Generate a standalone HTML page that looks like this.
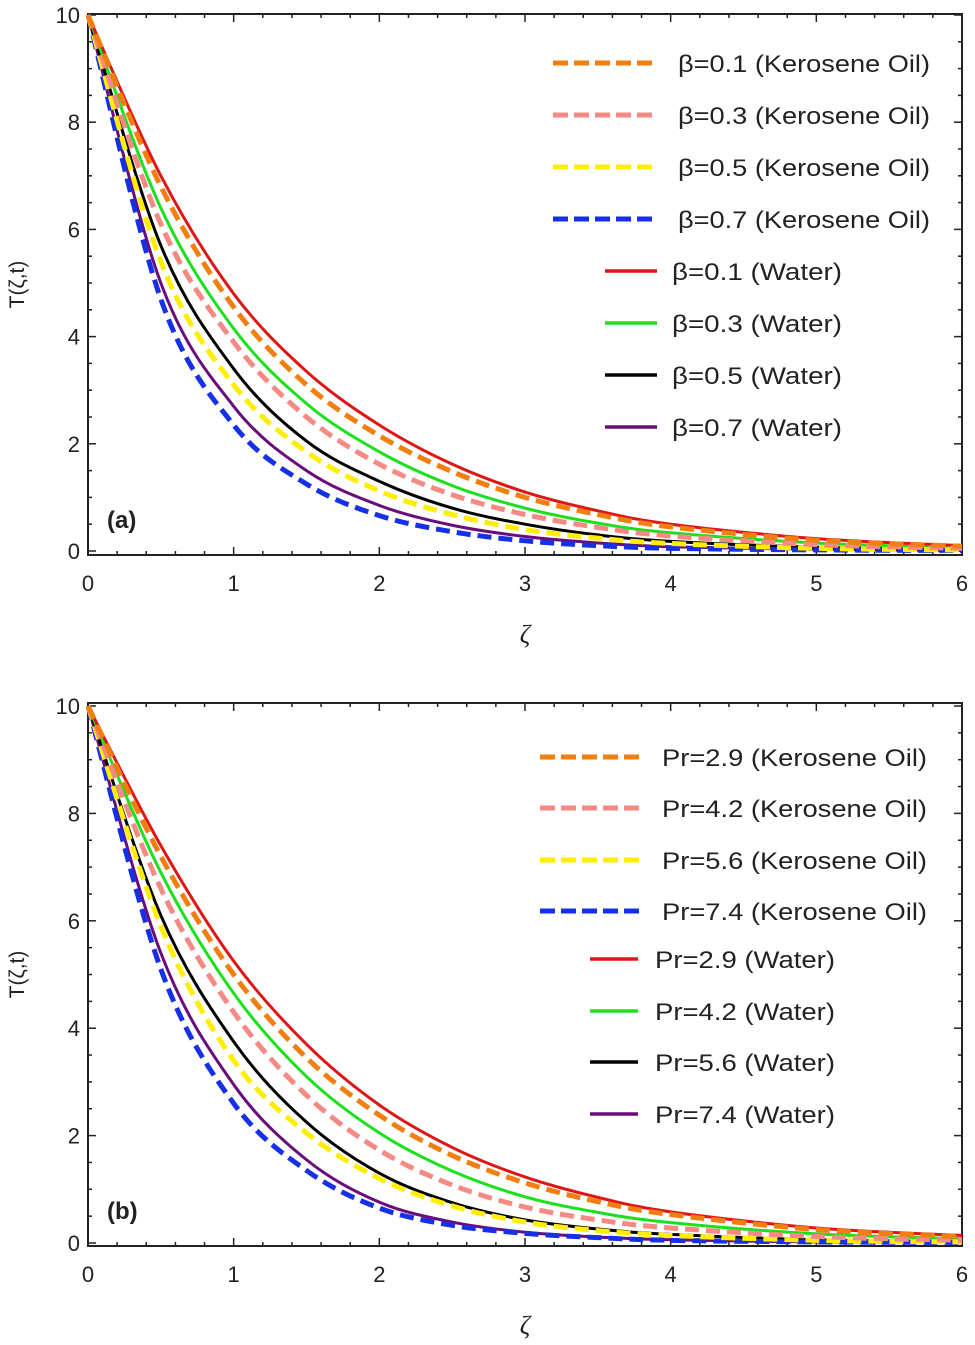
<!DOCTYPE html>
<html><head><meta charset="utf-8"><style>
body{margin:0;background:#fff;}
svg{display:block;font-family:"Liberation Sans",sans-serif;}
</style></head><body>
<svg id="c" width="975" height="1345"></svg>
<script>
const xs = [0,0.5,1,1.5,2,2.5,3,3.5,4,5,6];
const aRed    = [10,7.0,4.8,3.35,2.35,1.62,1.1,0.75,0.5,0.23,0.1];
const aOrange = [10,6.8,4.55,3.1,2.15,1.48,1.0,0.68,0.45,0.2,0.09];
const aGreen  = [10,6.4,4.15,2.75,1.85,1.22,0.8,0.52,0.34,0.15,0.06];
const aPink   = [10,6.1,3.9,2.5,1.62,1.05,0.68,0.44,0.28,0.12,0.05];
const aBlack  = [10,5.7,3.4,2.05,1.3,0.8,0.5,0.3,0.18,0.07,0.03];
const aYellow = [10,5.4,3.1,1.85,1.12,0.68,0.4,0.24,0.14,0.05,0.02];
const aPurple = [10,5.0,2.7,1.5,0.85,0.48,0.27,0.15,0.08,0.03,0.01];
const aBlue   = [10,4.7,2.35,1.25,0.66,0.36,0.19,0.1,0.05,0.02,0.01];
const bRed    = [10,7.4,5.25,3.7,2.57,1.78,1.23,0.85,0.58,0.28,0.14];
const bOrange = [10,7.2,5.0,3.45,2.38,1.63,1.12,0.77,0.53,0.25,0.12];
const bGreen  = [10,6.9,4.65,3.1,2.05,1.34,0.86,0.57,0.38,0.17,0.08];
const bPink   = [10,6.6,4.3,2.75,1.73,1.08,0.67,0.43,0.28,0.12,0.05];
const bBlack  = [10,6.1,3.75,2.25,1.3,0.75,0.43,0.26,0.16,0.06,0.03];
const bYellow = [10,5.9,3.4,2.05,1.2,0.69,0.39,0.23,0.14,0.05,0.02];
const bPurple = [10,5.4,2.95,1.55,0.76,0.39,0.2,0.11,0.06,0.02,0.01];
const bBlue   = [10,5.1,2.6,1.35,0.65,0.33,0.18,0.1,0.05,0.02,0.01];
const xTicks = [0,1,2,3,4,5,6];
const yTicks = [0,2,4,6,8,10];
const labelsA = ["β=0.1 (Kerosene Oil)","β=0.3 (Kerosene Oil)","β=0.5 (Kerosene Oil)","β=0.7 (Kerosene Oil)","β=0.1 (Water)","β=0.3 (Water)","β=0.5 (Water)","β=0.7 (Water)"];
const labelsB = ["Pr=2.9 (Kerosene Oil)","Pr=4.2 (Kerosene Oil)","Pr=5.6 (Kerosene Oil)","Pr=7.4 (Kerosene Oil)","Pr=2.9 (Water)","Pr=4.2 (Water)","Pr=5.6 (Water)","Pr=7.4 (Water)"];

const NS="http://www.w3.org/2000/svg";
const svg=document.getElementById('c');
function mk(t,a,p){const e=document.createElementNS(NS,t);for(const k in a)e.setAttribute(k,a[k]);(p||svg).appendChild(e);return e;}

function panel(cfg){
  const g=mk('g',{});
  
  
  const L=88,R=962,T=cfg.top,B=cfg.bot,y0=cfg.y0,y10=cfg.y10;
  const sx=v=>L+(R-L)*v/6;
  const sy=v=>y0+(y10-y0)*v/10;
  const fr=mk('rect',{x:L,y:T,width:R-L,height:B-T,fill:'none',stroke:'#222','stroke-width':2},g);
  
  
  xTicks.forEach((v,i)=>{
    for(let m=0;m<5&&v+m*0.2<=6;m++){const xx=sx(v+m*0.2);const len=m?4:8;
      mk('line',{x1:xx,y1:B,x2:xx,y2:B-len,stroke:'#222','stroke-width':1.5},g);
      mk('line',{x1:xx,y1:T,x2:xx,y2:T+len,stroke:'#222','stroke-width':1.5},g);}
    const t=mk('text',{x:sx(v),y:B+36,'font-size':22,'text-anchor':'middle',fill:'#222'},g);
    t.textContent=v;
    
    
  });
  yTicks.forEach(v=>{
    for(let m=0;m<4&&v+m*0.5<=10;m++){const yy=sy(v+m*0.5);const len=m?4:8;
      mk('line',{x1:L,y1:yy,x2:L+len,y2:yy,stroke:'#222','stroke-width':1.5},g);
      mk('line',{x1:R,y1:yy,x2:R-len,y2:yy,stroke:'#222','stroke-width':1.5},g);}
    const t=mk('text',{x:80,y:sy(v)+8,'font-size':22,'text-anchor':'end',fill:'#222'},g);
    t.textContent=v;
    
    
  });
  const yl=mk('text',{x:0,y:0,'font-size':21,'text-anchor':'middle',fill:'#222',transform:`translate(24,${(T+B)/2}) rotate(-90)`},g);
  yl.textContent='T(ζ,t)';
  
  
  const xl=mk('text',{x:525,y:B+88,'font-size':26,'font-style':'italic','text-anchor':'middle',fill:'#222','font-family':'Liberation Serif, serif'},g);
  xl.textContent='ζ';
  
  
  const pl=mk('text',{x:107,y:cfg.plY,'font-size':24,'font-weight':'bold',fill:'#222'},g);
  pl.textContent=cfg.tag;
  
  
  function path(vals){
    const p=xs.map((x,i)=>[sx(x),sy(vals[i])]);
    let d=`M${p[0][0]},${p[0][1]}`;
    for(let i=0;i<p.length-1;i++){
      const p0=p[Math.max(0,i-1)],p1=p[i],p2=p[i+1],p3=p[Math.min(p.length-1,i+2)];
      const c1=[p1[0]+(p2[0]-p0[0])/6,p1[1]+(p2[1]-p0[1])/6];
      const c2=[p2[0]-(p3[0]-p1[0])/6,p2[1]-(p3[1]-p1[1])/6];
      d+=`C${c1[0]},${c1[1]} ${c2[0]},${c2[1]} ${p2[0]},${p2[1]}`;}
    return d;
  }
  cfg.series.slice().reverse().forEach(s=>{
    const e=mk('path',{d:path(s.v),fill:'none',stroke:s.c,'stroke-width':s.dash?5:3,'stroke-dasharray':s.dash?'14,7':'none'},g);
    
    
  });
  cfg.series.forEach((s,i)=>{
    const yy=cfg.legY[i];
    const lg=mk('g',{},g);
    
    
    const x1=s.dash?cfg.lx1:cfg.wx1, x2=s.dash?cfg.lx2:cfg.wx2;
    mk('line',{x1:x1,y1:yy,x2:x2,y2:yy,stroke:s.c,'stroke-width':s.dash?5:3.5,'stroke-dasharray':s.dash?'15,6':'none'},lg);
    const t=mk('text',{x:s.dash?cfg.tx:cfg.wtx,y:yy+9,'font-size':24,fill:'#222',textLength:s.dash?cfg.tl:cfg.wtl,lengthAdjust:'spacingAndGlyphs'},lg);
    t.textContent=cfg.labels[i];
  });
}
const colsA=[['#f07f0f',1],['#f58a84',1],['#ffee00',1],['#1530e6',1],['#e01515',0],['#1be01b',0],['#000',0],['#6a0d7a',0]];
const vA=[aOrange,aPink,aYellow,aBlue,aRed,aGreen,aBlack,aPurple];
const vB=[bOrange,bPink,bYellow,bBlue,bRed,bGreen,bBlack,bPurple];
const names=['orange-dashed','pink-dashed','yellow-dashed','blue-dashed','red-solid','green-solid','black-solid','purple-solid'];
panel({id:'a',tag:'(a)',top:14,bot:555,y0:551,y10:15,plY:528,labels:labelsA,
  series:colsA.map((c,i)=>({c:c[0],dash:c[1],v:vA[i],name:'curve-a-'+names[i]})),
  legY:[63,115,167,219,271,323,375,427],lx1:553,lx2:658,wx1:605,wx2:657,tx:678,wtx:672,tl:252,wtl:170});
panel({id:'b',tag:'(b)',top:703,bot:1246,y0:1243,y10:706,plY:1219,labels:labelsB,
  series:colsA.map((c,i)=>({c:c[0],dash:c[1],v:vB[i],name:'curve-b-'+names[i]})),
  legY:[757,808,860,911,959,1011,1062,1114],lx1:540,lx2:645,wx1:590,wx2:638,tx:662,wtx:655,tl:265,wtl:180});
</script>
</body></html>
